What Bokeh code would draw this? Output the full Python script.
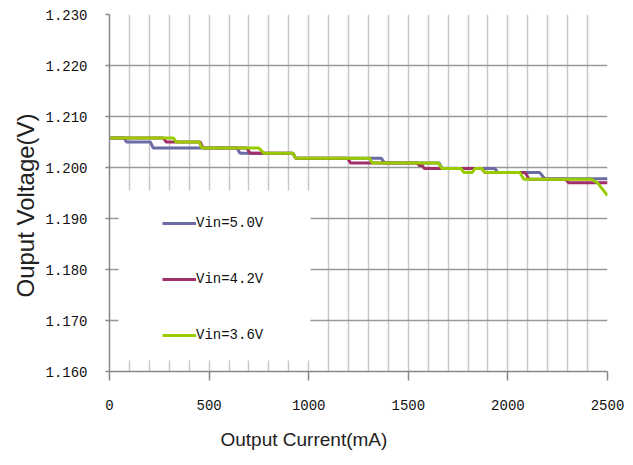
from bokeh.plotting import figure
from bokeh.models import (Legend, LegendItem, SingleIntervalTicker, FixedTicker,
                          PrintfTickFormatter, BoxAnnotation, Title)
from bokeh.embed import file_html
from bokeh.resources import INLINE

# ---- data ----
current_50 = [0, 75, 85, 205, 220, 640, 655, 920, 935, 1365, 1380, 1655, 1670,
              1935, 1950, 2160, 2185, 2500]
volt_50 = [1.2058, 1.2058, 1.2050, 1.2050, 1.2038, 1.2038, 1.2028, 1.2028,
           1.2018, 1.2018, 1.2009, 1.2009, 1.1998, 1.1998, 1.1990, 1.1990,
           1.1978, 1.1978]

current_42 = [0, 270, 285, 455, 470, 690, 705, 920, 935, 1195, 1210, 1545, 1555,
              1570, 1580, 1870, 1885, 2085, 2095, 2105, 2290, 2305, 2500]
volt_42 = [1.2058, 1.2058, 1.2050, 1.2050, 1.2038, 1.2038, 1.2028, 1.2028,
           1.2018, 1.2018, 1.2009, 1.2009, 1.2004, 1.2004, 1.1998, 1.1998,
           1.1990, 1.1990, 1.1985, 1.1977, 1.1977, 1.1970, 1.1970]

current_36 = [0, 320, 335, 450, 465, 750, 775, 920, 935, 1305, 1320, 1650, 1670,
              1765, 1780, 1820, 1835, 1870, 1885, 2060, 2080, 2420, 2450, 2500]
volt_36 = [1.2058, 1.2058, 1.2050, 1.2050, 1.2038, 1.2038, 1.2028, 1.2028,
           1.2018, 1.2018, 1.2009, 1.2009, 1.1998, 1.1998, 1.1990, 1.1990,
           1.1998, 1.1998, 1.1990, 1.1990, 1.1977, 1.1977, 1.1970, 1.1945]

series_labels = ["Vin=5.0V", "Vin=4.2V", "Vin=3.6V"]
series_colors = ["#6B6BA6", "#A0306A", "#99CC00"]

x_ticks = [0, 500, 1000, 1500, 2000, 2500]
y_ticks = [1.16, 1.17, 1.18, 1.19, 1.20, 1.21, 1.22, 1.23]

x_title = "Output Current(mA)"
y_title = "Ouput Voltage(V)"

TICK_FONT = "Liberation Mono"
LABEL_FONT = "Liberation Sans"

p = figure(width=625, height=465, x_range=(0, 2500), y_range=(1.16, 1.23),
           output_backend="svg", toolbar_location=None,
           min_border_left=109, min_border_right=18,
           min_border_top=14, min_border_bottom=94)
p.outline_line_color = None
p.background_fill_color = "white"
p.border_fill_color = "white"

# grids
p.xgrid.ticker = SingleIntervalTicker(interval=100, num_minor_ticks=0)
p.xgrid.grid_line_color = "#C8C8C8"
p.xgrid.grid_line_width = 1.5
p.ygrid.ticker = FixedTicker(ticks=y_ticks)
p.ygrid.grid_line_color = "#999999"
p.ygrid.grid_line_width = 1.5

# axes
xa = p.xaxis[0]
xa.ticker = FixedTicker(ticks=x_ticks)
xa.major_label_text_font = TICK_FONT
xa.major_label_text_font_size = "14px"
xa.major_label_text_color = "#111111"
xa.major_label_standoff = 19
xa.major_tick_out = 9
xa.major_tick_in = 0
xa.minor_tick_out = 0
xa.minor_tick_in = 0
xa.axis_line_color = "#888888"
xa.axis_line_width = 1.5
xa.major_tick_line_color = "#888888"
xa.major_tick_line_width = 1.5

ya = p.yaxis[0]
ya.ticker = FixedTicker(ticks=y_ticks)
ya.formatter = PrintfTickFormatter(format="%.3f")
ya.major_label_text_font = TICK_FONT
ya.major_label_text_font_size = "14px"
ya.major_label_text_color = "#111111"
ya.major_label_standoff = 18
ya.major_tick_out = 4
ya.major_tick_in = 0
ya.minor_tick_out = 0
ya.minor_tick_in = 0
ya.axis_line_color = "#888888"
ya.axis_line_width = 1.5
ya.major_tick_line_color = "#888888"
ya.major_tick_line_width = 1.5

# axis titles (offset like in the reference)
p.add_layout(Title(text=x_title, align="left", offset=111, standoff=28,
                   text_font=LABEL_FONT, text_font_size="19px",
                   text_font_style="normal", text_color="#222222"), "below")
p.add_layout(Title(text=y_title, align="left", offset=74, standoff=8,
                   text_font=LABEL_FONT, text_font_size="24px",
                   text_font_style="normal", text_color="#222222"), "left")

# data lines
r50 = p.line(current_50, volt_50, line_color=series_colors[0], line_width=3)
r42 = p.line(current_42, volt_42, line_color=series_colors[1], line_width=3)
r36 = p.line(current_36, volt_36, line_color=series_colors[2], line_width=3)

# white area behind the legend (hides grid lines like the reference)
box = BoxAnnotation(left=9, right=201, bottom=11, top=181,
                    left_units="screen", right_units="screen",
                    bottom_units="screen", top_units="screen",
                    fill_color="white", fill_alpha=1.0, line_color=None)
p.add_layout(box)

legend = Legend(items=[LegendItem(label=series_labels[0], renderers=[r50]),
                       LegendItem(label=series_labels[1], renderers=[r42]),
                       LegendItem(label=series_labels[2], renderers=[r36])],
                location=(53, 26.5), orientation="vertical",
                padding=21, margin=0, spacing=36,
                glyph_width=34, glyph_height=20, label_height=20,
                label_standoff=0,
                label_text_font=TICK_FONT, label_text_font_size="14px",
                label_text_color="#111111",
                background_fill_color="white", background_fill_alpha=1.0,
                border_line_color=None)
p.add_layout(legend, "center")

open("out.html", "w").write(file_html(p, INLINE))
